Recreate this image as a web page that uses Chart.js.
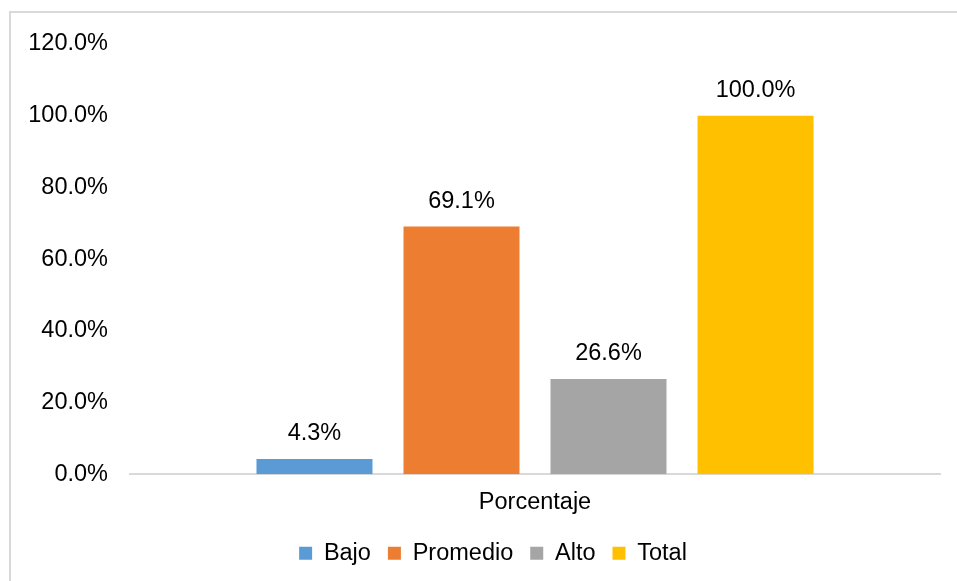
<!DOCTYPE html>
<html>
<head>
<meta charset="utf-8">
<script src="https://cdn.jsdelivr.net/npm/chart.js@4.4.0/dist/chart.umd.min.js"></script>
<style>
  html, body { margin: 0; padding: 0; background: #fff; overflow: hidden; }
  #frame {
    position: absolute; left: 9px; top: 11px; width: 990px; height: 620px;
    border: 2px solid #d9d9d9; box-sizing: border-box;
  }
  #wrap { position: absolute; left: 0; top: 0; width: 957px; height: 581px; }
</style>
</head>
<body>
<div id="frame"></div>
<div id="wrap"><canvas id="chart"></canvas></div>
<script>
// Chart data
const categories = ['Porcentaje'];
const seriesNames = ['Bajo', 'Promedio', 'Alto', 'Total'];
const seriesValues = [[4.3], [69.1], [26.6], [100.0]];
const seriesColors = ['#5B9BD5', '#ED7D31', '#A5A5A5', '#FFC000'];
const yTicks = [0, 20, 40, 60, 80, 100, 120];

const FONT = 'Liberation Sans, Arial, sans-serif';
const FONT_SIZE = 23.5;

// draws the value above each bar
const valueLabels = {
    id: 'valueLabels',
    afterDatasetsDraw(chart) {
        const ctx = chart.ctx;
        ctx.save();
        ctx.font = FONT_SIZE + 'px ' + FONT;
        ctx.fillStyle = '#000';
        ctx.textAlign = 'center';
        ctx.textBaseline = 'alphabetic';
        chart.data.datasets.forEach((ds, i) => {
            chart.getDatasetMeta(i).data.forEach((bar, j) => {
                ctx.fillText(ds.data[j].toFixed(1) + '%', bar.x, bar.y - 19);
            });
        });
        ctx.restore();
    }
};

// legend sits a bit right of the canvas centre, like the original
const legendShift = {
    id: 'legendShift',
    afterLayout(chart) {
        chart.legend.left += 9;
        chart.legend.right += 9;
    }
};

const datasets = seriesNames.map((name, i) => ({
    label: name,
    data: seriesValues[i],
    backgroundColor: seriesColors[i],
    borderWidth: 0,
    categoryPercentage: 0.726,
    barPercentage: 0.789
}));

new Chart(document.getElementById('chart'), {
    type: 'bar',
    data: { labels: categories, datasets: datasets },
    plugins: [valueLabels, legendShift],
    options: {
        responsive: true,
        maintainAspectRatio: false,
        animation: false,
        layout: { padding: { left: 28, right: 17, top: 44, bottom: 6 } },
        plugins: {
            tooltip: { enabled: false },
            legend: {
                position: 'bottom',
                labels: {
                    font: { family: FONT, size: FONT_SIZE },
                    color: '#000',
                    boxWidth: 13,
                    boxHeight: 13,
                    padding: 17
                }
            }
        },
        scales: {
            x: {
                grid: { display: false },
                border: { display: true, color: '#d9d9d9', width: 2 },
                afterFit: axis => { axis.height += 2; },
                ticks: { font: { family: FONT, size: FONT_SIZE }, color: '#000', padding: 6 }
            },
            y: {
                min: 0,
                max: 120,
                afterBuildTicks: axis => { axis.ticks = yTicks.map(v => ({ value: v })); },
                afterFit: axis => { axis.width = 102; },
                grid: { display: false },
                border: { display: false },
                ticks: {
                    font: { family: FONT, size: FONT_SIZE },
                    color: '#000',
                    padding: 14,
                    callback: v => v.toFixed(1) + '%'
                }
            }
        }
    }
});
</script>
</body>
</html>
